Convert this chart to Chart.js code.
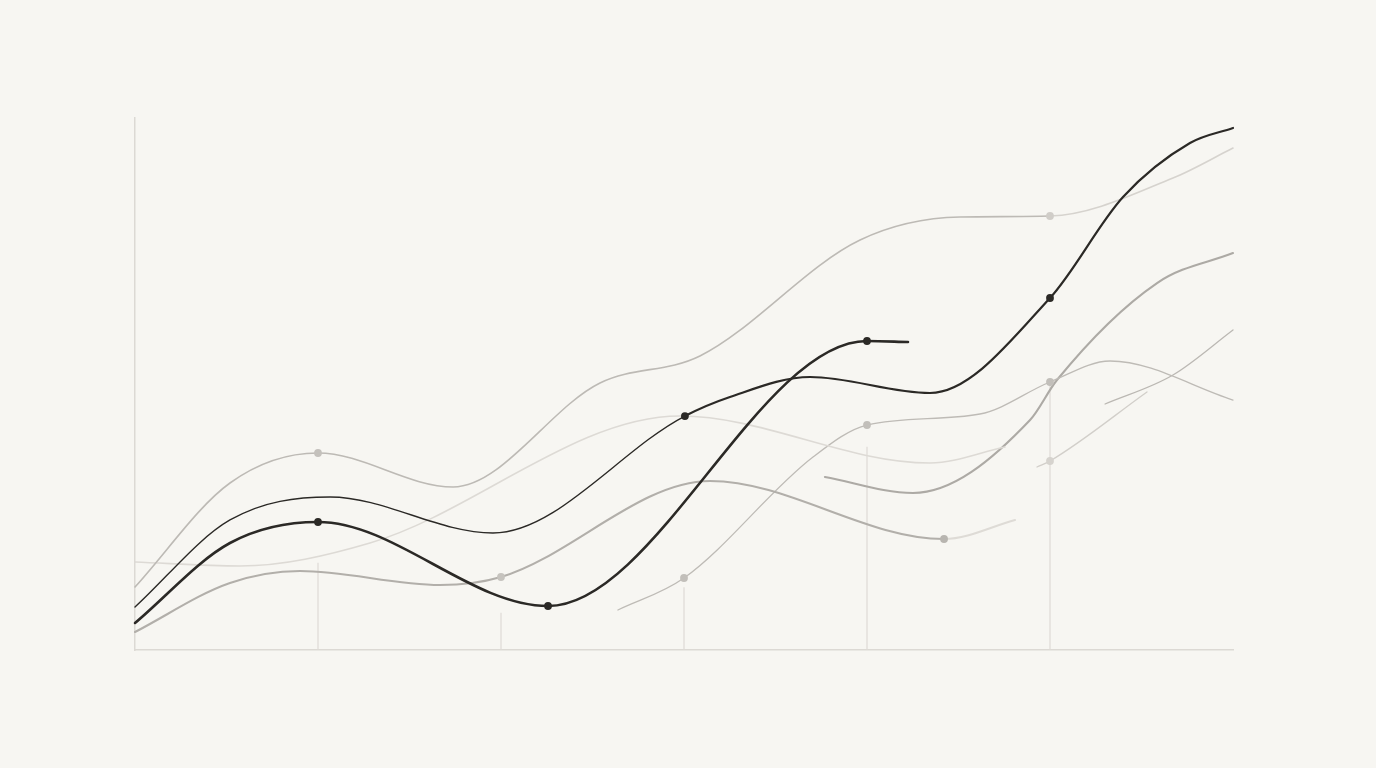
<!DOCTYPE html>
<html>
<head>
<meta charset="utf-8">
<script src="https://cdn.jsdelivr.net/npm/chart.js@4/dist/chart.umd.min.js"></script>
<style>
html,body{margin:0;padding:0;background:#f7f6f2;}
#wrap{width:1376px;height:768px;position:relative;}
</style>
</head>
<body>
<div id="wrap"><canvas id="c" width="1376" height="768"></canvas></div>
<script>
// x positions (category steps 0..6) and y values (0..100)
const seriesAx = [0, 0.519, 1, 2.257, 4, 4.224];
const seriesAy = [5.08, 20.11, 24.06, 8.27, 58.08, 57.89];
const seriesAmarks = [2, 3, 4];

const seriesBx = [0, 0.519, 1.066, 1.956, 3.005, 3.251, 3.689, 4.344, 5, 5.399, 5.765, 6];
const seriesBy = [8.08, 24.44, 28.76, 21.99, 43.98, 47.56, 51.32, 48.31, 66.17, 85.15, 95.30, 98.12];
const seriesBmarks = [4, 8];

const seriesCx = [0, 0.519, 1, 1.738, 2.541, 3.087, 3.962, 4.508, 5, 5.672, 6];
const seriesCy = [11.84, 31.39, 37.03, 30.64, 50.19, 55.26, 77.07, 81.39, 81.58, 88.72, 94.36];
const seriesCmarks = [2, 8];

const seriesDx = [0, 0.574, 1.284, 2.978, 4.344, 4.754];
const seriesDy = [16.54, 15.79, 20.11, 43.98, 35.15, 38.16];

const seriesEx = [0, 0.519, 0.902, 1.667, 2, 3.142, 4.421, 4.809];
const seriesEy = [3.38, 12.59, 14.85, 12.22, 13.72, 31.77, 20.86, 24.44];
const seriesEmarks = [4, 6];

const seriesFx = [2.639, 3, 3.705, 4, 4.617, 5, 5.328, 6];
const seriesFy = [7.52, 13.53, 36.28, 42.29, 44.36, 50.38, 54.32, 46.99];
const seriesFmarks = [1, 3, 5];

const seriesGx = [3.770, 4.251, 4.891, 5.038, 5.585, 6];
const seriesGy = [32.52, 29.51, 43.23, 50.75, 68.98, 74.62];

const seriesHx = [4.929, 5, 5.530];
const seriesHy = [34.40, 35.53, 48.50];
const seriesHmarks = [1];

const seriesIx = [5.301, 5.672, 6];
const seriesIy = [46.24, 51.69, 60.15];

const dropX = [1, 2, 3, 4, 5];
const dropTop = [16.4, 7.0, 11.8, 38.2, 50.4];

const pts = (xs, ys) => xs.map((x, i) => ({x: x, y: ys[i]}));
const radii = (n, marks, r) => Array.from({length: n}, (_, i) => marks.includes(i) ? r : 0);

const DARK = '#2b2926';
function line(xs, ys, color, width, marks, extra) {
  return Object.assign({
    type: 'line',
    data: pts(xs, ys),
    borderColor: color,
    backgroundColor: color,
    pointBackgroundColor: color,
    pointBorderWidth: 0,
    borderWidth: width,
    pointRadius: radii(xs.length, marks || [], 3.9),
    pointHoverRadius: 0,
    cubicInterpolationMode: 'monotone',
    fill: false,
    clip: false,
    borderCapStyle: 'round',
    borderJoinStyle: 'round'
  }, extra || {});
}

const datasets = [
  line(seriesAx, seriesAy, DARK, 2.6, seriesAmarks),
  line(seriesBx, seriesBy, DARK, 1.4, seriesBmarks, {
    segment: { borderWidth: ctx => ctx.p0DataIndex >= 4 ? 2.2 : 1.4 }
  }),
  line(seriesCx, seriesCy, '#bdbab5', 1.6, seriesCmarks, {
    pointBackgroundColor: ctx => ctx.dataIndex >= 8 ? '#d0cdc8' : '#c4c1bc',
    segment: { borderColor: ctx => ctx.p0DataIndex >= 8 ? '#d6d3ce' : undefined }
  }),
  line(seriesDx, seriesDy, '#dddad5', 1.6, []),
  line(seriesEx, seriesEy, '#b2afaa', 2.1, seriesEmarks, {
    pointBackgroundColor: ctx => ctx.dataIndex === 4 ? '#c6c3be' : '#b8b5b0',
    segment: { borderColor: ctx => ctx.p0DataIndex >= 6 ? '#dedbd6' : undefined }
  }),
  line(seriesFx, seriesFy, '#bebbb6', 1.3, seriesFmarks, {
    pointBackgroundColor: '#c2bfba'
  }),
  line(seriesGx, seriesGy, '#adaaa5', 2.1, []),
  line(seriesHx, seriesHy, '#d2cfca', 1.3, seriesHmarks, {
    pointBackgroundColor: '#d6d3ce'
  }),
  line(seriesIx, seriesIy, '#bbb8b3', 1.3, [])
];

dropX.forEach((x, i) => {
  datasets.push({
    type: 'line',
    data: [{x: x, y: 0}, {x: x, y: dropTop[i]}],
    borderColor: '#dedbd6',
    borderWidth: 1.2,
    pointRadius: 0,
    pointHoverRadius: 0,
    fill: false,
    tension: 0
  });
});

new Chart(document.getElementById('c'), {
  type: 'line',
  data: { datasets: datasets },
  options: {
    responsive: false,
    animation: false,
    events: [],
    layout: { padding: { left: 135, right: 143, top: 118, bottom: 118 } },
    plugins: { legend: { display: false }, tooltip: { enabled: false }, title: { display: false } },
    scales: {
      x: {
        type: 'linear', min: 0, max: 6,
        grid: { display: false, drawTicks: false },
        ticks: { display: false },
        border: { display: true, color: '#dcd9d4', width: 1.5 }
      },
      y: {
        type: 'linear', min: 0, max: 100,
        grid: { display: false, drawTicks: false },
        ticks: { display: false },
        border: { display: true, color: '#dcd9d4', width: 1.5 }
      }
    }
  }
});
</script>
</body>
</html>
